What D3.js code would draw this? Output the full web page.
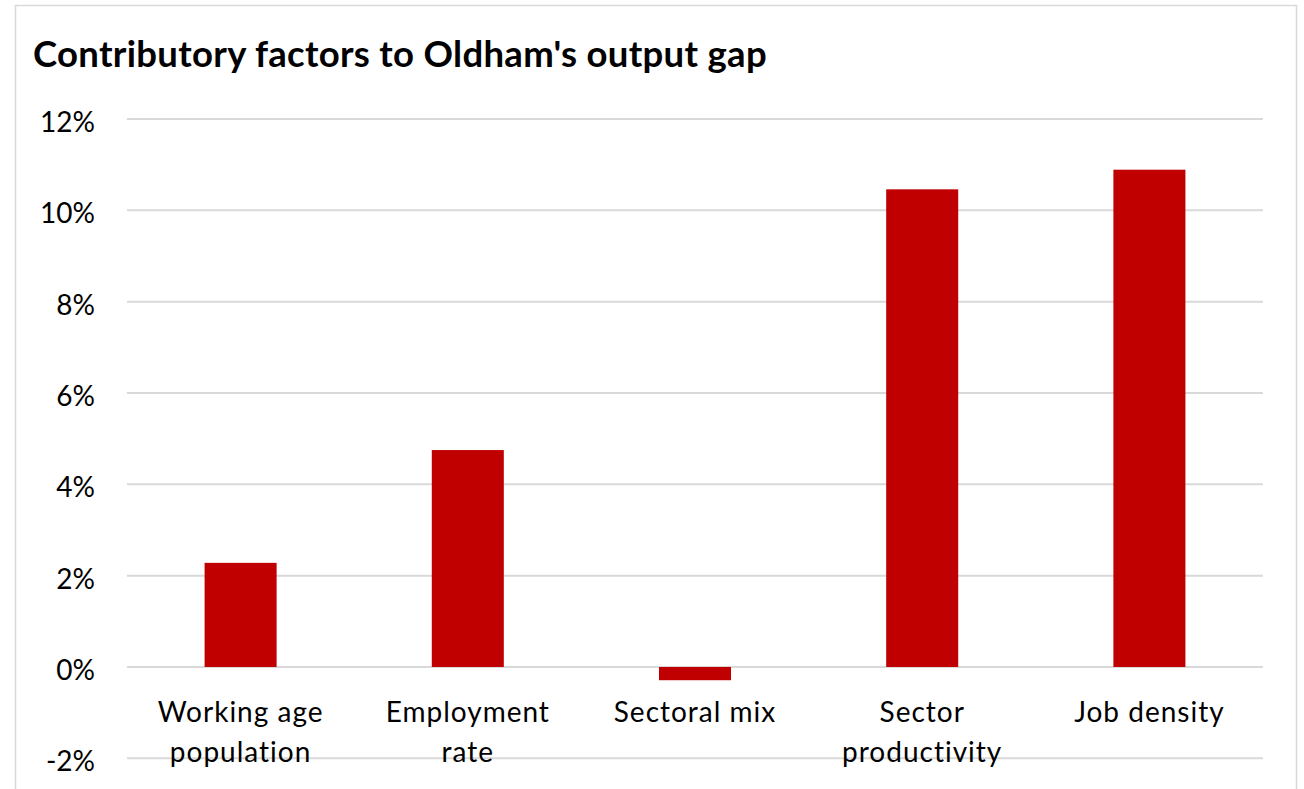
<!DOCTYPE html>
<html>
<head>
<meta charset="utf-8">
<script src="https://cdn.jsdelivr.net/npm/d3@7"></script>
<style>
  html, body { margin: 0; padding: 0; background: #ffffff; }
  svg { display: block; }
  text { font-family: Lato, "Open Sans", sans-serif; fill: #000; }
</style>
</head>
<body>
<svg id="chart" width="1304" height="789"></svg>
<script>
// Contributions to Oldham's output gap, by factor (percent)
const categories = [
  ["Working age", "population"],
  ["Employment", "rate"],
  ["Sectoral mix"],
  ["Sector", "productivity"],
  ["Job density"]
];
const values = [2.28, 4.75, -0.29, 10.46, 10.89];
const yTicks = [-2, 0, 2, 4, 6, 8, 10, 12];
const title = "Contributory factors to Oldham's output gap";

const svg = d3.select("#chart");

// outer chart frame
svg.append("rect")
  .attr("x", 15.5).attr("y", 5.5)
  .attr("width", 1281).attr("height", 800)
  .attr("fill", "#fff").attr("stroke", "#d9d9d9").attr("stroke-width", 1.5);

const plot = { left: 127, right: 1263, top: 119, bottom: 758.3 };

const x = d3.scaleBand()
  .domain(d3.range(values.length))
  .range([plot.left, plot.right])
  .paddingInner(0.683)
  .paddingOuter(0.3415);

const y = d3.scaleLinear()
  .domain([-2, 12])
  .range([plot.bottom, plot.top]);

// title
svg.append("text")
  .attr("x", 33).attr("y", 67)
  .attr("font-size", 36.5).attr("font-weight", 700)
  .attr("letter-spacing", 0.3)
  .text(title);

// horizontal gridlines
svg.append("g")
  .selectAll("line")
  .data(yTicks)
  .join("line")
  .attr("x1", plot.left).attr("x2", plot.right)
  .attr("y1", d => y(d)).attr("y2", d => y(d))
  .attr("stroke", "#d9d9d9").attr("stroke-width", 2);

// y tick labels
svg.append("g")
  .selectAll("text")
  .data(yTicks)
  .join("text")
  .attr("x", 95)
  .attr("y", d => y(d) + 13)
  .attr("text-anchor", "end")
  .attr("font-size", 28)
  .text(d => d + "%");

// bars
svg.append("g")
  .selectAll("rect")
  .data(values)
  .join("rect")
  .attr("x", (d, i) => x(i))
  .attr("width", x.bandwidth())
  .attr("y", d => y(Math.max(0, d)))
  .attr("height", d => Math.abs(y(d) - y(0)))
  .attr("fill", "#c00000");

// category labels
const catG = svg.append("g");
categories.forEach((lines, i) => {
  const t = catG.append("text")
    .attr("text-anchor", "middle")
    .attr("font-size", 28)
    .attr("letter-spacing", 1);
  lines.forEach((ln, j) => {
    t.append("tspan")
      .attr("x", x(i) + x.bandwidth() / 2)
      .attr("y", 722 + j * 40)
      .text(ln);
  });
});
</script>
</body>
</html>
